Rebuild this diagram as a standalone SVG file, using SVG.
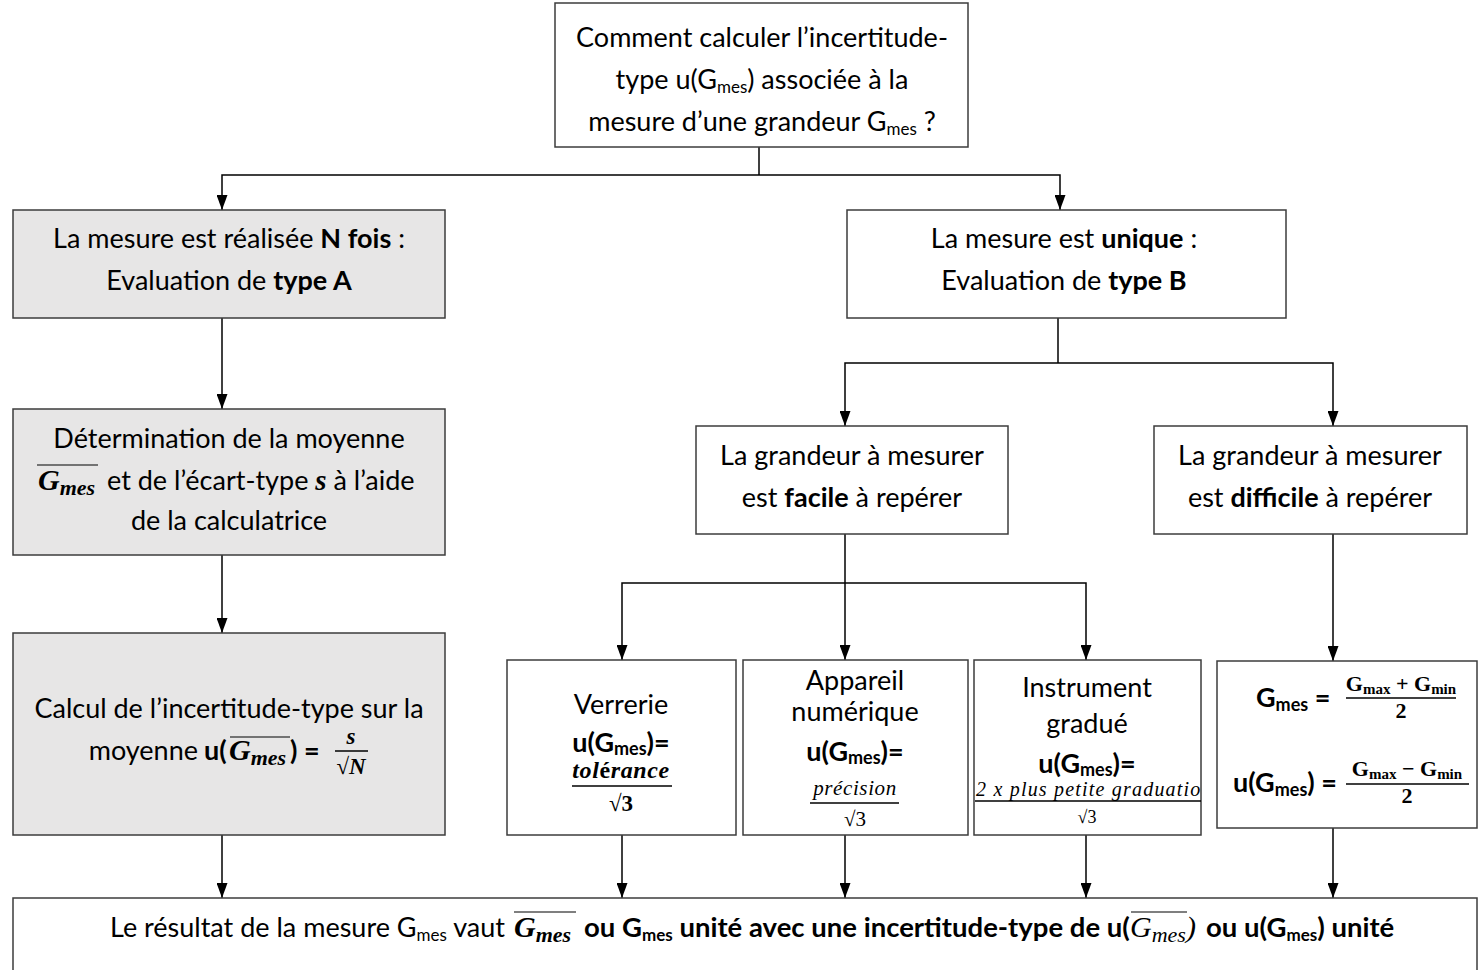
<svg xmlns="http://www.w3.org/2000/svg" width="1479" height="970" viewBox="0 0 1479 970">
<defs>
<style>
.box{fill:#fff;stroke:#3c3c3c;stroke-width:1.5}
.gray{fill:#e7e6e6}
.t{font-family:Lato,'Liberation Sans',sans-serif;font-size:27px;fill:#000}
.c{text-anchor:middle}
.e{text-anchor:end}
.b{font-weight:bold}
.m{font-family:'Liberation Serif',serif;font-style:italic;font-weight:bold}
.s{font-family:'Liberation Serif',serif}
.ol{stroke:#000;stroke-width:1.2}
.bar{stroke:#000;stroke-width:1.6}
#connectors path{fill:none;stroke:#000;stroke-width:1.5}
</style>
<marker id="arr" viewBox="0 0 15 11" refX="15" refY="5.5" markerWidth="15" markerHeight="11" markerUnits="userSpaceOnUse" orient="auto">
<path d="M0,0 L15,5.5 L0,11 z" fill="#000"/>
</marker>
<clipPath id="clipInstr"><rect x="975" y="660" width="226" height="175"/></clipPath>
</defs>
<rect width="1479" height="970" fill="#fff"/>

<g id="connectors">
<path d="M759,147 V175"/>
<path d="M759,175 H222 V210" marker-end="url(#arr)"/>
<path d="M759,175 H1060 V210" marker-end="url(#arr)"/>
<path d="M222,318 V409" marker-end="url(#arr)"/>
<path d="M222,555 V633" marker-end="url(#arr)"/>
<path d="M222,835 V898" marker-end="url(#arr)"/>
<path d="M1058,318 V363"/>
<path d="M1058,363 H845 V426" marker-end="url(#arr)"/>
<path d="M1058,363 H1333 V426" marker-end="url(#arr)"/>
<path d="M845,534 V660" marker-end="url(#arr)"/>
<path d="M845,583 H622 V660" marker-end="url(#arr)"/>
<path d="M845,583 H1086 V660" marker-end="url(#arr)"/>
<path d="M1333,534 V661" marker-end="url(#arr)"/>
<path d="M622,835 V898" marker-end="url(#arr)"/>
<path d="M845,835 V898" marker-end="url(#arr)"/>
<path d="M1086,835 V898" marker-end="url(#arr)"/>
<path d="M1333,828 V898" marker-end="url(#arr)"/>
</g>

<g id="n_question">
<rect class="box" x="555" y="3" width="413" height="144"/>
<text class="t c" x="762" y="47">Comment calculer l’incertitude-</text>
<text class="t c" x="762" y="89">type u(G<tspan font-size="17" dy="4">mes</tspan><tspan dy="-4">) associée à la</tspan></text>
<text class="t c" x="762" y="131">mesure d’une grandeur G<tspan font-size="17" dy="4">mes</tspan><tspan dy="-4"> ?</tspan></text>
</g>

<g id="n_typeA">
<rect class="box gray" x="13" y="210" width="432" height="108"/>
<text class="t c" x="229" y="248">La mesure est réalisée <tspan class="b">N fois</tspan> :</text>
<text class="t c" x="229" y="290">Evaluation de <tspan class="b">type A</tspan></text>
</g>

<g id="n_typeB">
<rect class="box" x="847" y="210" width="439" height="108"/>
<text class="t c" x="1064" y="248">La mesure est <tspan class="b">unique</tspan> :</text>
<text class="t c" x="1064" y="290">Evaluation de <tspan class="b">type B</tspan></text>
</g>

<g id="n_moyenne">
<rect class="box gray" x="13" y="409" width="432" height="146"/>
<text class="t c" x="229" y="448">Détermination de la moyenne</text>
<text class="t m" x="38" y="490" style="font-size:30px">G<tspan font-size="22" dy="5">mes</tspan></text>
<line class="ol" x1="37" y1="465" x2="98" y2="465"/>
<text class="t" x="107" y="490">et de l’écart-type <tspan class="m" font-size="29">s</tspan> à l’aide</text>
<text class="t c" x="229" y="530">de la calculatrice</text>
</g>

<g id="n_calcul">
<rect class="box gray" x="13" y="633" width="432" height="202"/>
<text class="t c" x="229" y="718">Calcul de l’incertitude-type sur la</text>
<text class="t e" x="198" y="760">moyenne</text>
<text class="t b" x="204" y="760">u(</text>
<text class="t m" x="229" y="760" style="font-size:30px">G<tspan font-size="22" dy="5">mes</tspan></text>
<line class="ol" x1="230" y1="737" x2="290" y2="737"/>
<text class="t b" x="290" y="760">) =</text>
<text class="t m c" x="351" y="744" style="font-size:23px">s</text>
<line class="bar" x1="335" y1="751" x2="368" y2="751"/>
<text class="t s c" x="351" y="774" style="font-size:23px">√<tspan class="m">N</tspan></text>
</g>

<g id="n_facile">
<rect class="box" x="696" y="426" width="312" height="108"/>
<text class="t c" x="852" y="465">La grandeur à mesurer</text>
<text class="t c" x="852" y="507">est <tspan class="b">facile</tspan> à repérer</text>
</g>

<g id="n_difficile">
<rect class="box" x="1154" y="426" width="313" height="108"/>
<text class="t c" x="1310" y="465">La grandeur à mesurer</text>
<text class="t c" x="1310" y="507">est <tspan class="b">difficile</tspan> à repérer</text>
</g>

<g id="n_verrerie">
<rect class="box" x="507" y="660" width="229" height="175"/>
<text class="t c" x="621" y="714">Verrerie</text>
<text class="t c b" x="621" y="752">u(G<tspan font-size="18" dy="3">mes</tspan><tspan dy="-3">)=</tspan></text>
<text class="t m c" x="621" y="778" style="font-size:24px;letter-spacing:0.6px">tol<tspan font-style="normal">é</tspan>rance</text>
<line class="bar" x1="572" y1="786" x2="672" y2="786"/>
<text class="t s c b" x="621" y="811" style="font-size:23px">√3</text>
</g>

<g id="n_numerique">
<rect class="box" x="743" y="660" width="225" height="175"/>
<text class="t c" x="855" y="690">Appareil</text>
<text class="t c" x="855" y="721">numérique</text>
<text class="t c b" x="855" y="761">u(G<tspan font-size="18" dy="3">mes</tspan><tspan dy="-3">)=</tspan></text>
<text class="t s c" x="855" y="795" style="font-size:21px;font-style:italic;letter-spacing:0.6px">précision</text>
<line class="bar" x1="810" y1="803" x2="899" y2="803"/>
<text class="t s c" x="855" y="826" style="font-size:21px">√3</text>
</g>

<g id="n_gradue">
<rect class="box" x="974" y="660" width="227" height="175"/>
<text class="t c" x="1087" y="697">Instrument</text>
<text class="t c" x="1087" y="733">gradué</text>
<text class="t c b" x="1087" y="773">u(G<tspan font-size="18" dy="3">mes</tspan><tspan dy="-3">)=</tspan></text>
<g clip-path="url(#clipInstr)">
<text class="t s" x="976" y="796" style="font-size:20px;font-style:italic;letter-spacing:1.2px">2 x plus petite graduation</text>
</g>
<line class="bar" x1="975" y1="801" x2="1201" y2="801"/>
<text class="t s c" x="1087" y="823" style="font-size:18px">√3</text>
</g>

<g id="n_formules">
<rect class="box" x="1217" y="661" width="260" height="167"/>
<text class="t b" x="1256" y="707">G<tspan font-size="18" dy="4">mes</tspan><tspan dy="-4"> =</tspan></text>
<text class="t s b c" x="1401" y="691" style="font-size:22px">G<tspan font-size="15" dy="3">max</tspan><tspan dy="-3"> + G</tspan><tspan font-size="15" dy="3">min</tspan></text>
<line class="bar" x1="1346" y1="698" x2="1456" y2="698"/>
<text class="t s b c" x="1401" y="718" style="font-size:22px">2</text>
<text class="t b" x="1233" y="792">u(G<tspan font-size="18" dy="4">mes</tspan><tspan dy="-4">) =</tspan></text>
<text class="t s b c" x="1407" y="776" style="font-size:22px">G<tspan font-size="15" dy="3">max</tspan><tspan dy="-3"> − G</tspan><tspan font-size="15" dy="3">min</tspan></text>
<line class="bar" x1="1346" y1="784" x2="1469" y2="784"/>
<text class="t s b c" x="1407" y="803" style="font-size:22px">2</text>
</g>

<g id="n_resultat">
<rect class="box" x="13" y="898" width="1464" height="100"/>
<text class="t" x="110" y="937">Le résultat de la mesure G<tspan font-size="17" dy="4">mes</tspan><tspan dy="-4"> vaut</tspan></text>
<text class="t m" x="514" y="937" style="font-size:30px">G<tspan font-size="22" dy="5">mes</tspan></text>
<line class="ol" x1="514" y1="912" x2="576" y2="912"/>
<text class="t b" x="584" y="937" style="font-size:27.5px">ou G<tspan font-size="17" dy="4">mes</tspan><tspan dy="-4"> unité avec une incertitude-type de u(</tspan></text>
<text class="t s" x="1130" y="937" style="font-size:30px;font-style:italic">G<tspan font-size="22" dy="5">mes</tspan><tspan dy="-5">)</tspan></text>
<line class="ol" x1="1131" y1="912" x2="1187" y2="912"/>
<text class="t b" x="1206" y="937" style="font-size:27.5px">ou u(G<tspan font-size="17" dy="4">mes</tspan><tspan dy="-4">) unité</tspan></text>
</g>
</svg>
